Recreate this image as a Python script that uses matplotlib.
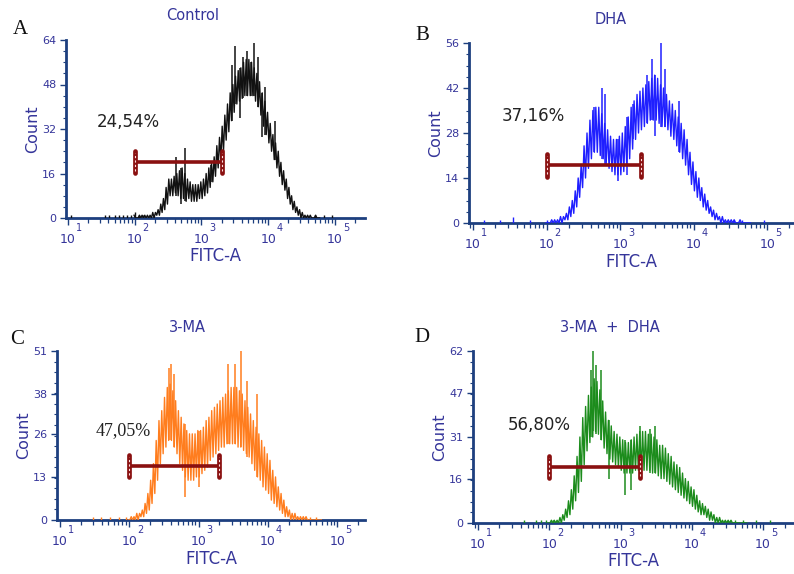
import numpy as np
import matplotlib
matplotlib.use("Agg")
import matplotlib.pyplot as plt
from matplotlib.ticker import FixedLocator, NullFormatter, MultipleLocator

# ---------------- data ----------------
# histogram bins: log10(FITC-A) centres 2.00 ... 4.76 (step 0.04)
bin_log = np.round(2.0 + 0.04 * np.arange(70), 2)

A_lo = [0,0,0,0,0,0,0,0,1,1, 2,3,5,8,8,9,8,7,7,6, 7,6,6,6,7,7,8,9,11,13,
        15,18,21,24,28,31,35,38,41,42, 43,44,44,44,44,42,40,37,33,30,
        27,24,21,18,15,12,10,7,5,3, 2,1,0,0,0,0,0,0,0,0]
A_hi = [1,0,1,1,1,1,1,2,2,3, 5,7,11,14,14,15,16,17,18,16, 14,13,12,12,12,13,14,16,18,20,
        22,26,29,33,37,41,45,48,51,53, 54,56,57,57,56,54,52,49,45,42,
        38,34,30,27,24,20,17,14,11,8, 6,4,3,2,1,1,1,0,1,0]
A_spk_x = [2.62, 2.75, 3.15, 3.46, 3.50, 3.62, 3.68, 3.74, 3.78, 3.84, 3.95, 4.10]
A_spk_y = [22, 25, 19, 55, 62, 58, 60, 56, 63, 58, 47, 35]
A_dip_x = [2.70, 3.58, 3.90]
A_dip_y = [5, 36, 29]
A_evt_x = [1.05, 1.55, 1.62, 1.70, 1.76, 1.82, 1.88, 1.94, 2.00, 2.06, 2.13, 4.70, 4.83, 4.95]
A_evt_y = [1, 1, 1, 1, 1, 1, 1, 1, 2, 1, 1, 1, 1, 1]

B_lo = [0,0,0,0,0,0,1,1,2,3, 5,8,11,14,17,20,22,22,21,20, 18,17,16,15,15,15,16,18,20,23,
        26,28,29,30,31,32,32,32,31,30, 30,29,27,26,24,22,20,18,15,12,
        10,8,7,5,4,3,2,1,1,0, 0,0,0,0,0,0,0,0,0,0]
B_hi = [0,0,1,1,1,2,2,3,5,7, 10,14,18,24,28,32,35,36,36,34, 31,29,27,26,26,27,28,30,33,36,
        38,40,41,42,43,44,45,46,45,43, 42,40,38,37,35,33,31,29,26,22,
        19,16,14,11,9,7,5,4,3,2, 2,1,1,1,1,0,1,0,0,0]
B_spk_x = [2.64, 2.75, 2.80, 3.18, 3.36, 3.43, 3.55, 3.61, 3.80]
B_spk_y = [36, 42, 40, 37, 46, 51, 56, 48, 38]
B_dip_x = [2.97, 3.10, 3.48]
B_dip_y = [13, 15, 27]
B_evt_x = [1.15, 1.37, 1.55, 1.78, 2.00, 4.55, 4.65, 4.95]
B_evt_y = [1, 1, 2, 1, 1, 1, 1, 1]

C_lo = [0,0,0,0,1,1,2,3,5,8, 12,17,20,22,24,24,22,20,17,15, 13,12,12,12,13,13,14,15,16,18,
        19,20,21,22,22,23,23,23,23,22, 22,21,20,19,17,15,13,12,10,9,
        8,6,5,4,3,2,1,1,0,0, 0,0,0,0,0,0,0,0,0,0]
C_hi = [0,1,1,2,2,3,5,8,12,17, 24,30,33,37,40,41,39,36,33,31, 29,27,26,26,26,27,27,28,30,31,
        33,34,35,36,37,38,39,40,40,40, 39,38,36,34,32,30,28,26,24,22,
        20,18,15,13,10,8,6,4,3,2, 2,1,1,1,1,0,0,0,0,0]
C_spk_x = [2.57, 2.60, 2.65, 3.43, 3.53, 3.61, 3.70, 3.85]
C_spk_y = [46, 47, 44, 47, 47, 51, 42, 38]
C_dip_x = [2.80, 3.00]
C_dip_y = [7, 10]
C_evt_x = [1.48, 1.60, 1.72, 1.85, 1.95, 4.60, 4.70]
C_evt_y = [1, 1, 1, 1, 1, 1, 1]

D_lo = [0,0,0,0,0,1,2,3,5,8, 11,15,21,26,29,31,33,32,30,27, 25,23,22,21,20,19,18,18,18,18,
        19,19,19,19,19,19,18,18,17,16, 16,15,14,13,12,11,10,9,8,7,
        6,5,4,3,3,2,1,1,0,0, 0,0,0,0,0,0,0,0,0,0]
D_hi = [0,1,1,1,2,3,5,8,12,17, 24,31,38,42,46,49,52,51,48,44, 40,37,35,33,32,31,30,29,29,30,
        31,32,33,33,33,32,32,31,30,28, 28,27,25,24,22,21,20,18,16,15,
        13,12,10,8,7,6,5,4,3,2, 2,1,1,1,1,0,0,0,0,0]
D_spk_x = [2.58, 2.62, 2.66, 2.72, 3.28, 3.42, 3.49]
D_spk_y = [55, 62, 57, 55, 35, 34, 35]
D_dip_x = [2.84, 3.06, 3.14]
D_dip_y = [16, 10, 12]
D_evt_x = [1.65, 1.82, 1.88, 1.95, 2.05, 4.60, 4.72, 4.90, 5.10]
D_evt_y = [1, 1, 1, 1, 1, 1, 1, 1, 1]

titles = ["Control", "DHA", "3-MA", "3-MA  +  DHA"]
letters = ["A", "B", "C", "D"]
y_max = [64, 56, 51, 62]
y_ticks = [[0, 16, 32, 48, 64], [0, 14, 28, 42, 56], [0, 13, 26, 38, 51], [0, 16, 31, 47, 62]]
percents = ["24,54%", "37,16%", "47,05%", "56,80%"]
pct_pos = [(1.90, 34.5), (1.82, 33.3), (1.92, 27.0), (1.86, 35.3)]
gate_lo = [100, 100, 100, 100]
gate_hi = [2000, 1950, 2000, 1900]
gate_y = [20.1, 18.0, 16.3, 20.2]
x_decades = [1, 2, 3, 4, 5]
x_base = "10"

# ---------------- styling / layout ----------------
W, H = 794, 574
navy = "#1d3f7f"
txt_blue = "#35359a"
gate_col = "#8a1010"
colors = ["#111111", "#1f1fff", "#ff7d1e", "#1c8c1c"]
# axes boxes in pixels: left, top, right, bottom
boxes = [(66, 40, 365, 218), (469, 43, 793, 223), (57, 351, 365, 520), (473, 351, 793, 523)]
xlims = [(0.97, 5.45), (0.946, 5.35), (0.96, 5.40), (0.93, 5.42)]
title_fx = [0.425, 0.438, 0.425, 0.428]
letter_px = [(20, 30), (422, 35), (17, 340), (422, 338)]
pct_serif = [False, False, True, False]
xlabel_top_px = [29, 30, 30, 29]
ylabel_right_px = 26

series = [
    (A_lo, A_hi, A_spk_x, A_spk_y, A_dip_x, A_dip_y, A_evt_x, A_evt_y),
    (B_lo, B_hi, B_spk_x, B_spk_y, B_dip_x, B_dip_y, B_evt_x, B_evt_y),
    (C_lo, C_hi, C_spk_x, C_spk_y, C_dip_x, C_dip_y, C_evt_x, C_evt_y),
    (D_lo, D_hi, D_spk_x, D_spk_y, D_dip_x, D_dip_y, D_evt_x, D_evt_y),
]

plt.rcParams['font.family'] = ['DejaVu Sans']
fig = plt.figure(figsize=(W / 100, H / 100), dpi=100)

for k in range(4):
    l, t, r, b = boxes[k]
    ax = fig.add_axes([l / W, (H - b) / H, (r - l) / W, (b - t) / H])
    lo, hi, sx, sy, dx, dy, ex, ey = series[k]
    col = colors[k]

    # zig-zag line between low and high envelope of each bin
    xs, ys = [], []
    for c, a, bb in zip(bin_log, lo, hi):
        xs += [c - 0.01, c + 0.01]
        ys += [bb, a]
    ax.plot(np.power(10.0, xs), ys, color=col, lw=1.0, zorder=3)

    idx = lambda v: int(round((v - 2.0) / 0.04))
    for v, h in zip(sx, sy):
        ax.vlines(10 ** v, lo[idx(v)], h, color=col, lw=1.1, zorder=3)
    for v, h in zip(dx, dy):
        ax.vlines(10 ** v, h, hi[idx(v)], color=col, lw=1.1, zorder=3)
    ax.vlines(np.power(10.0, ex), 0, ey, color=col, lw=1.0, zorder=3)

    # gate
    ym = y_max[k]
    ax.plot([gate_lo[k], gate_hi[k]], [gate_y[k], gate_y[k]], color=gate_col, lw=2.6,
            solid_capstyle='butt', zorder=5)
    hh = 0.064 * ym
    for gx in (gate_lo[k], gate_hi[k]):
        ax.plot([gx, gx], [gate_y[k] - hh, gate_y[k] + hh], color=gate_col, lw=3.4,
                solid_capstyle='round', zorder=6)
        ax.plot([gx, gx], [gate_y[k] - hh * 0.8, gate_y[k] + hh * 0.8], color="#ffdede",
                lw=0.8, ls=(0, (2, 2)), zorder=7)

    # percent label
    px, py = pct_pos[k]
    if pct_serif[k]:
        ax.text(10 ** px, py, percents[k], ha='center', va='center', fontsize=13,
                family=['Liberation Serif'], color="#222222", zorder=8)
    else:
        ax.text(10 ** px, py, percents[k], ha='center', va='center', fontsize=12,
                color="#222222", zorder=8)

    # axes
    ax.set_xscale('log')
    ax.set_xlim(10 ** xlims[k][0], 10 ** xlims[k][1])
    ax.set_ylim(0, ym)
    for s in ('top', 'right'):
        ax.spines[s].set_visible(False)
    for s in ('left', 'bottom'):
        ax.spines[s].set_color(navy)
        ax.spines[s].set_linewidth(2.0)
    ax.xaxis.set_major_locator(FixedLocator([10.0 ** d for d in x_decades]))
    minors = [m * 10.0 ** d for d in range(0, 6) for m in range(2, 10)]
    ax.xaxis.set_minor_locator(FixedLocator(minors))
    ax.xaxis.set_minor_formatter(NullFormatter())
    ax.set_xticklabels([x_base for d in x_decades])
    # exponents drawn as small raised text to the right of "10"
    for d in x_decades:
        ax.annotate(str(d), xy=(10.0 ** d, 0), xycoords=('data', 'axes fraction'),
                    xytext=(11, -10), textcoords='offset pixels', ha='center', va='center',
                    fontsize=7, color=txt_blue, annotation_clip=False)
    ax.yaxis.set_major_locator(FixedLocator(y_ticks[k]))
    ax.yaxis.set_minor_locator(MultipleLocator(ym / 16.0))
    ax.tick_params(axis='x', which='major', length=5, width=1.0, color=navy, pad=5.5,
                   labelsize=9, labelcolor=txt_blue)
    ax.tick_params(axis='x', which='minor', length=3.5, width=0.9, color=navy)
    ax.tick_params(axis='y', which='major', length=4.5, width=1.0, color=navy, pad=2.5,
                   labelsize=8, labelcolor=txt_blue)
    ax.tick_params(axis='y', which='minor', length=2.5, width=0.8, color=navy)
    ax.set_ylabel("Count", fontsize=11.5, color=txt_blue)
    ax.yaxis.set_label_coords(-ylabel_right_px / (r - l), 0.5)
    ax.set_xlabel("FITC-A", fontsize=12, color=txt_blue)
    ax.xaxis.set_label_coords(0.5, -xlabel_top_px[k] / (b - t))
    ax.patch.set_alpha(0)

    # title and panel letter
    ax.text(title_fx[k], 1.0 + 24.0 / (b - t), titles[k], transform=ax.transAxes,
            ha='center', va='center', fontsize=10.5, color=txt_blue)
    lx, ly = letter_px[k]
    fig.text(lx / W, 1 - ly / H, letters[k], ha='center', va='center', fontsize=15,
             family=['Liberation Serif'], color="#111111")

fig.savefig("out.png", dpi=100)
